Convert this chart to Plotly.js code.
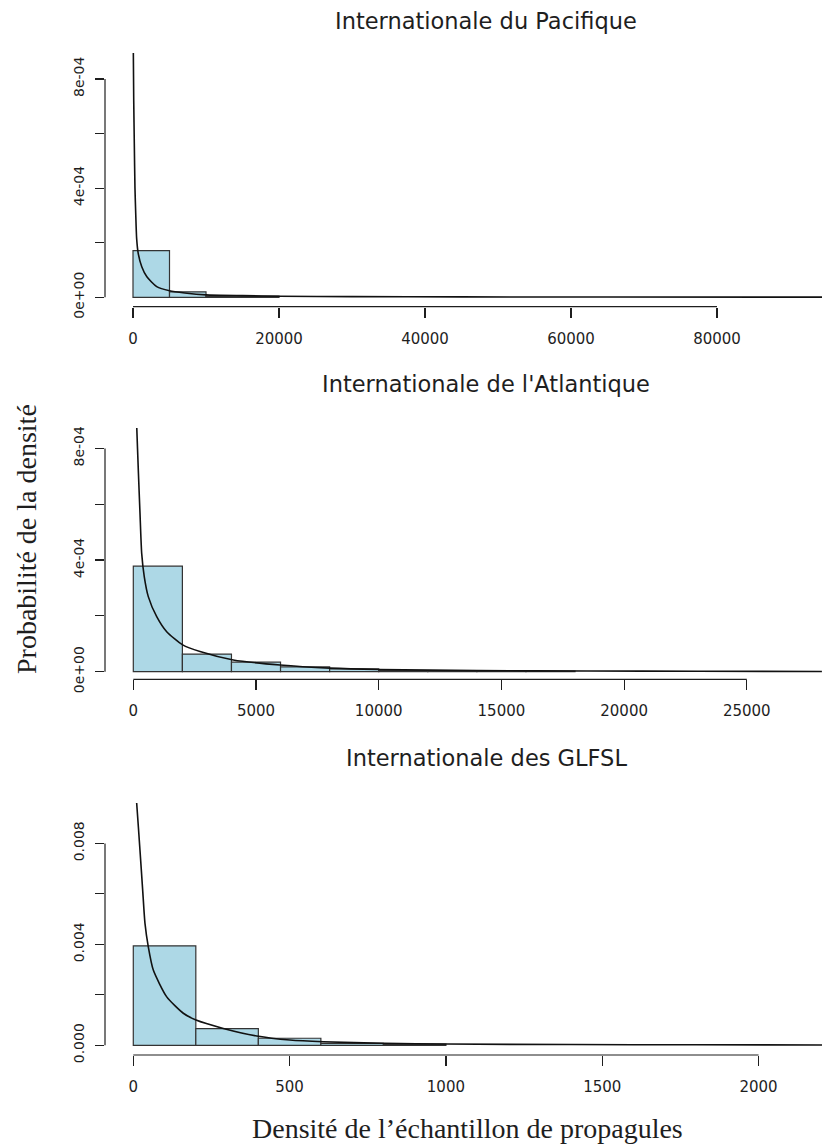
<!DOCTYPE html>
<html>
<head>
<meta charset="utf-8">
<script src="https://cdn.plot.ly/plotly-3.0.1.min.js"></script>
<style>
  html, body { margin: 0; padding: 0; background: #ffffff; }
  #chart { width: 836px; height: 1146px; }
</style>
</head>
<body>
<div id="chart"></div>
<script>
// ---- Panel titles and axis titles ----
const panelTitles = [
  "Internationale du Pacifique",
  "Internationale de l'Atlantique",
  "Internationale des GLFSL"
];
const yTitle = "Probabilité de la densité";
const xTitle = "Densité de l\u2019échantillon de propagules";

// ---- Internationale du Pacifique ----
const pacBreaks  = [0, 5000, 10000, 15000, 20000];
const pacDensity = [1.71e-4, 2.0e-5, 4e-6, 4e-6];
const pacCurveX  = [30, 100, 180, 270, 370, 500, 720, 1200, 1900, 3250, 5000, 7100, 10000, 15000, 20000, 30000, 45000, 65000, 94400];
const pacCurveY  = [9.5e-4, 7.2e-4, 5.6e-4, 4.0e-4, 3.1e-4, 2.15e-4, 1.6e-4, 1.12e-4, 7.5e-5, 3.9e-5, 2.4e-5, 1.6e-5, 9e-6, 6e-6, 4e-6, 2.5e-6, 1.5e-6, 1e-6, 6e-7];
const pacXTicks  = [0, 20000, 40000, 60000, 80000];
const pacXLabels = ["0", "20000", "40000", "60000", "80000"];
const pacYTicks  = [0, 2e-4, 4e-4, 6e-4, 8e-4];
const pacYLabels = ["0e+00", "", "4e-04", "", "8e-04"];

// ---- Internationale de l'Atlantique ----
const atlBreaks  = [0, 2000, 4000, 6000, 8000, 10000, 12000, 14000, 16000, 18000];
const atlDensity = [3.78e-4, 6.3e-5, 3.4e-5, 1.7e-5, 1.0e-5, 4e-6, 3e-6, 2e-6, 2e-6];
const atlCurveX  = [120, 139, 204, 273, 342, 448, 611, 954, 1361, 2013, 2718, 4075, 5978, 8015, 10000, 14000, 18500, 23000, 28060];
const atlCurveY  = [9.3e-4, 8.8e-4, 7.23e-4, 5.68e-4, 4.24e-4, 3.40e-4, 2.69e-4, 1.97e-4, 1.43e-4, 9.6e-5, 7.2e-5, 4.2e-5, 2.4e-5, 1.3e-5, 8e-6, 4e-6, 2.5e-6, 1.5e-6, 1e-6];
const atlXTicks  = [0, 5000, 10000, 15000, 20000, 25000];
const atlXLabels = ["0", "5000", "10000", "15000", "20000", "25000"];
const atlYTicks  = [0, 2e-4, 4e-4, 6e-4, 8e-4];
const atlYLabels = ["0e+00", "", "4e-04", "", "8e-04"];

// ---- Internationale des GLFSL ----
const glfBreaks  = [0, 200, 400, 600, 800, 1000];
const glfDensity = [3.94e-3, 6.6e-4, 2.8e-4, 8e-5, 5e-5];
const glfCurveX  = [8, 10.9, 21.4, 30, 37.4, 48, 64, 107, 160, 200.6, 288, 395, 501, 608, 800, 1000, 1400, 1800, 2203];
const glfCurveY  = [1.0e-2, 9.58e-3, 7.73e-3, 6.15e-3, 4.83e-3, 3.90e-3, 2.98e-3, 1.92e-3, 1.27e-3, 1.0e-3, 6.7e-4, 3.7e-4, 2.1e-4, 1.4e-4, 8e-5, 5e-5, 3e-5, 2e-5, 1.5e-5];
const glfXTicks  = [0, 500, 1000, 1500, 2000];
const glfXLabels = ["0", "500", "1000", "1500", "2000"];
const glfYTicks  = [0, 0.002, 0.004, 0.006, 0.008];
const glfYLabels = ["0.000", "", "0.004", "", "0.008"];

// ---- page geometry (pixels) ----
const W = 836, H = 1146;
const px = v => v / W;          // pixel x -> paper x
const py = v => 1 - v / H;      // pixel y -> paper y

const panels = [
  { breaks: pacBreaks, dens: pacDensity, cx: pacCurveX, cy: pacCurveY,
    xt: pacXTicks, xl: pacXLabels, yt: pacYTicks, yl: pacYLabels,
    xr: [-3836, 94384], yr: [-3.44e-5, 8.95e-4], top: 53, bottom: 306.7, titleY: 21 },
  { breaks: atlBreaks, dens: atlDensity, cx: atlCurveX, cy: atlCurveY,
    xt: atlXTicks, xl: atlXLabels, yt: atlYTicks, yl: atlYLabels,
    xr: [-1153, 28064], yr: [-2.72e-5, 8.73e-4], top: 428, bottom: 679.3, titleY: 384 },
  { breaks: glfBreaks, dens: glfDensity, cx: glfCurveX, cy: glfCurveY,
    xt: glfXTicks, xl: glfXLabels, yt: glfYTicks, yl: glfYLabels,
    xr: [-90.5, 2203], yr: [-3.84e-4, 9.6e-3], top: 803, bottom: 1055, titleY: 758 }
];

const sansFont = "DejaVu Sans, Liberation Sans, Arial, sans-serif";
const serifFont = "Liberation Serif, Times New Roman, serif";
const ink = "#1e1e1e";

const traces = [];
const layout = {
  width: W, height: H,
  margin: { l: 0, r: 0, t: 0, b: 0 },
  paper_bgcolor: "#ffffff",
  plot_bgcolor: "rgba(0,0,0,0)",
  showlegend: false,
  bargap: 0,
  shapes: [],
  annotations: []
};

panels.forEach((p, i) => {
  const n = i === 0 ? "" : String(i + 1);
  const xa = "x" + n, ya = "y" + n;

  // histogram bars (density scale), one bar per bin
  const centers = p.dens.map((_, k) => (p.breaks[k] + p.breaks[k + 1]) / 2);
  const widths  = p.dens.map((_, k) => p.breaks[k + 1] - p.breaks[k]);
  traces.push({
    type: "bar", x: centers, y: p.dens, width: widths,
    xaxis: xa, yaxis: ya,
    marker: { color: "#add8e6", line: { color: "#333333", width: 1.2 } },
    hoverinfo: "skip"
  });

  // fitted density curve
  traces.push({
    type: "scatter", mode: "lines", x: p.cx, y: p.cy,
    xaxis: xa, yaxis: ya,
    line: { color: "#111111", width: 1.6, shape: "spline", smoothing: 0.6 },
    hoverinfo: "skip"
  });

  layout["xaxis" + n] = {
    domain: [px(105), px(822)],
    anchor: ya,
    range: p.xr,
    showgrid: false, zeroline: false, showline: false,
    ticks: "outside", ticklen: 10, tickwidth: 1.2, tickcolor: ink,
    tickmode: "array", tickvals: p.xt, ticktext: p.xl,
    ticklabelstandoff: 8,
    tickfont: { family: sansFont, size: 15, color: ink },
    fixedrange: true
  };
  layout["yaxis" + n] = {
    domain: [py(p.bottom), py(p.top)],
    anchor: xa,
    range: p.yr,
    showgrid: false, zeroline: false, showline: false,
    ticks: "outside", ticklen: 9, tickwidth: 1.2, tickcolor: ink,
    tickmode: "array", tickvals: p.yt, ticktext: p.yl,
    tickangle: -90,
    ticklabelstandoff: 5,
    tickfont: { family: sansFont, size: 14, color: ink },
    fixedrange: true
  };

  // axis lines spanning the first to the last tick only
  layout.shapes.push({
    type: "line", xref: xa, yref: ya + " domain",
    x0: p.xt[0], x1: p.xt[p.xt.length - 1], y0: 0, y1: 0,
    line: { color: ink, width: 1.2 }
  });
  layout.shapes.push({
    type: "line", xref: xa + " domain", yref: ya,
    x0: 0, x1: 0, y0: p.yt[0], y1: p.yt[p.yt.length - 1],
    line: { color: ink, width: 1.2 }
  });

  // panel title
  layout.annotations.push({
    text: panelTitles[i], xref: "paper", yref: "paper",
    x: px(486), y: py(p.titleY), xanchor: "center", yanchor: "middle",
    showarrow: false,
    font: { family: sansFont, size: 22.5, color: ink }
  });
});

// shared axis titles
layout.annotations.push({
  text: yTitle, xref: "paper", yref: "paper",
  x: px(26), y: py(539), xanchor: "center", yanchor: "middle",
  textangle: -90, showarrow: false,
  font: { family: serifFont, size: 28, color: ink }
});
layout.annotations.push({
  text: xTitle, xref: "paper", yref: "paper",
  x: px(467), y: py(1128), xanchor: "center", yanchor: "middle",
  showarrow: false,
  font: { family: serifFont, size: 28, color: ink }
});

Plotly.newPlot("chart", traces, layout, { displayModeBar: false, staticPlot: true });
</script>
</body>
</html>
